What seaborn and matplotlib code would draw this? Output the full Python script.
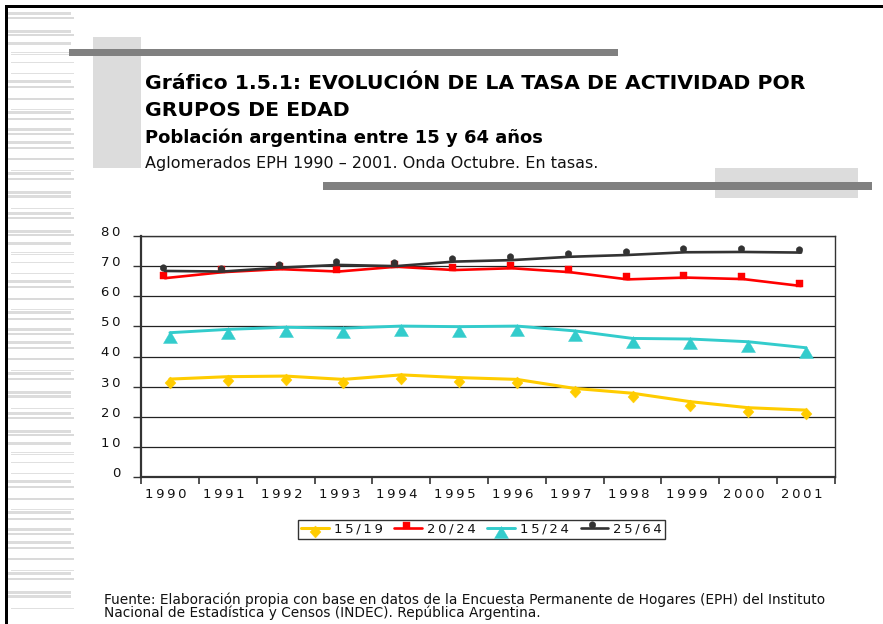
import numpy as np
import pandas as pd
import seaborn as sns
import matplotlib
matplotlib.use("Agg")
import matplotlib.pyplot as plt
from matplotlib.path import Path
from matplotlib.markers import MarkerStyle
from matplotlib.transforms import ScaledTranslation
from matplotlib.patches import Rectangle

# ---------------- data ----------------
years = ["1990", "1991", "1992", "1993", "1994", "1995",
         "1996", "1997", "1998", "1999", "2000", "2001"]
tasa_15_19 = [32.5, 33.3, 33.5, 32.4, 33.9, 33.0, 32.4, 29.4, 27.8, 25.0, 23.0, 22.2]
tasa_20_24 = [66.0, 68.0, 69.0, 68.2, 69.8, 68.7, 69.3, 68.0, 65.6, 66.2, 65.7, 63.4]
tasa_15_24 = [47.9, 49.0, 49.7, 49.4, 50.1, 49.9, 50.1, 48.5, 46.0, 45.8, 44.9, 42.9]
tasa_25_64 = [68.4, 68.2, 69.5, 70.4, 70.0, 71.5, 72.0, 73.1, 73.7, 74.6, 74.7, 74.5]
series_labels = ["15/19", "20/24", "15/24", "25/64"]
y_ticks = [0, 10, 20, 30, 40, 50, 60, 70, 80]

title_1 = "Gráfico 1.5.1: EVOLUCIÓN DE LA TASA DE ACTIVIDAD POR"
title_2 = "GRUPOS DE EDAD"
subtitle = "Población argentina entre 15 y 64 años"
note = "Aglomerados EPH 1990 – 2001. Onda Octubre. En tasas."
source_1 = ("Fuente: Elaboración propia con base en datos de la Encuesta Permanente "
            "de Hogares (EPH) del Instituto")
source_2 = "Nacional de Estadística y Censos (INDEC). República Argentina."

# ---------------- style ----------------
sns.set_style("white")
plt.rcParams["font.family"] = ["DejaVu Sans"]

W, H, DPI = 883, 624, 100
fig = plt.figure(figsize=(W / DPI, H / DPI), dpi=DPI)
fig.patch.set_facecolor("white")


def spaced(s):
    return "\u2009".join(s)


# background / page decoration axes (pixel coordinates)
bg = fig.add_axes([0, 0, 1, 1], zorder=0)
bg.set_xlim(0, W)
bg.set_ylim(H, 0)
bg.axis("off")

# left margin striped decoration
pattern = [(2, "K"), (7, "m"), (20, "K"), (24, "m"), (32, "K"), (41, "t"), (43, "t"),
           (51, "t"), (62, "t"), (70, "K"), (76, "m"), (88, "m"), (98, "t"), (101, "K"),
           (108, "m"), (118, "K"), (123, "m"), (131, "K"), (137, "m"), (148, "m"),
           (159, "t"), (162, "K"), (168, "m"), (181, "K"), (185, "K"), (197, "t")]
for start in (11, 211, 411):
    for off, kind in pattern:
        yy = start + off
        if yy > H:
            continue
        if kind == "K":
            bg.add_patch(Rectangle((8, yy - 1.5), 63, 3, color="#dcdcdc", lw=0))
        elif kind == "m":
            bg.add_patch(Rectangle((8, yy - 0.8), 66, 1.6, color="#dadada", lw=0))
        else:
            bg.add_patch(Rectangle((11, yy - 0.5), 63, 1.0, color="#e0e0e0", lw=0))

# page border
bg.add_patch(Rectangle((5, 5), W - 5, 3, color="black", lw=0))
bg.add_patch(Rectangle((5, 5), 3, H - 5, color="black", lw=0))

# header blocks
bg.add_patch(Rectangle((93, 37), 48, 131, color="#dcdcdc", lw=0, zorder=1))
bg.add_patch(Rectangle((69, 49), 549, 7, color="#808080", lw=0, zorder=2))
bg.add_patch(Rectangle((715, 168), 143, 30, color="#dcdcdc", lw=0, zorder=1))
bg.add_patch(Rectangle((323, 182), 549, 8, color="#808080", lw=0, zorder=2))

# header texts
bg.text(145, 89, title_1, fontsize=14.7, fontweight="bold", color="black",
        va="baseline", ha="left", zorder=3)
bg.text(145, 116, title_2, fontsize=14.7, fontweight="bold", color="black",
        va="baseline", ha="left", zorder=3)
bg.text(145, 143, subtitle, fontsize=12.95, fontweight="bold", color="black",
        va="baseline", ha="left", zorder=3)
bg.text(145, 168, note, fontsize=11.5, color="#111111",
        va="baseline", ha="left", zorder=3)
bg.text(104, 604, source_1, fontsize=9.95, color="#111111",
        va="baseline", ha="left", zorder=3)
bg.text(104, 617, source_2, fontsize=9.95, color="#111111",
        va="baseline", ha="left", zorder=3)

# ---------------- chart ----------------
ax = fig.add_axes([141 / W, 1 - 477 / H, (835 - 141) / W, (477 - 236) / H], zorder=2)
ax.set_facecolor("white")

R = 12.0
bound = Path([[R, R]], [Path.MOVETO])


def mk(path):
    return MarkerStyle(Path.make_compound_path(bound, path))


C = [Path.MOVETO, Path.LINETO, Path.LINETO, Path.LINETO, Path.CLOSEPOLY]
diamond = mk(Path([(0, 2.5), (5.5, -3.5), (0, -9.5), (-5.5, -3.5), (0, 2.5)], C))
triangle = mk(Path([(0, 2), (7, -10), (-7, -10), (0, 2)],
                   [Path.MOVETO, Path.LINETO, Path.LINETO, Path.CLOSEPOLY]))
square = mk(Path([(-5.5, -0.5), (1.5, -0.5), (1.5, 6.5), (-5.5, 6.5), (-5.5, -0.5)], C))
circle = mk(Path.circle(center=(-2, 3.5), radius=3.3))
MS = 2 * R * 72 / DPI

series = [
    (tasa_15_19, series_labels[0], "#FFCC00", diamond, 2.2, False),
    (tasa_20_24, series_labels[1], "#FF0000", square, 1.9, True),
    (tasa_15_24, series_labels[2], "#33CCCC", triangle, 2.1, False),
    (tasa_25_64, series_labels[3], "#333333", circle, 1.9, True),
]

shift = ax.transData + ScaledTranslation(-5 / DPI, 0, fig.dpi_scale_trans)
for i, (vals, lab, col, mkr, lw, shifted) in enumerate(series):
    df = pd.DataFrame({"Año": years, "Tasa": vals})
    sns.lineplot(data=df, x="Año", y="Tasa", ax=ax, color=col, lw=lw,
                 marker=mkr, markersize=MS, markeredgecolor=col,
                 markerfacecolor=col, markeredgewidth=0.3,
                 label=spaced(lab), zorder=3 + i, sort=False)
    if shifted:
        ax.lines[-1].set_transform(shift)

ax.set_xlim(-0.5, 11.5)
ax.set_ylim(0, 80)
ax.set_xlabel("")
ax.set_ylabel("")

# x: boundary ticks (major), labels at category centers (minor)
ax.set_xticks(np.arange(-0.5, 12, 1))
ax.set_xticklabels([""] * 13)
ax.set_xticks(np.arange(len(years)), minor=True)
ax.set_xticklabels([spaced(y) for y in years], minor=True)
ax.tick_params(axis="x", which="major", direction="out", length=5, width=1.2,
               color="#333333", bottom=True)
ax.tick_params(axis="x", which="minor", length=0, pad=8, labelsize=9.5,
               labelcolor="#111111")
xoff = ScaledTranslation(-4 / DPI, 0, fig.dpi_scale_trans)
for t in ax.get_xticklabels(minor=True):
    t.set_transform(t.get_transform() + xoff)

ax.set_yticks(y_ticks)
ax.set_yticklabels([spaced(str(v)) for v in y_ticks])
ax.tick_params(axis="y", direction="out", length=6, width=1.0, color="#333333",
               left=True, pad=9, labelsize=9.5, labelcolor="#111111")
yoff = ScaledTranslation(0, 5 / DPI, fig.dpi_scale_trans)
for t in ax.get_yticklabels():
    t.set_transform(t.get_transform() + yoff)

ax.yaxis.grid(True, color="#222222", lw=0.9)
ax.xaxis.grid(False)
ax.set_axisbelow(True)
for side, sp in ax.spines.items():
    sp.set_visible(True)
    sp.set_color("#333333")
    sp.set_linewidth(1.0)
ax.spines["left"].set_linewidth(1.6)
ax.spines["bottom"].set_linewidth(1.6)

handles, labels = ax.get_legend_handles_labels()
leg = ax.legend(handles, labels, ncol=4, loc="center",
                bbox_to_anchor=(481.5 / W, 1 - 529.5 / H),
                bbox_transform=fig.transFigure, frameon=True, fancybox=False,
                framealpha=1, edgecolor="#333333", fontsize=9.5,
                handlelength=2.1, handletextpad=0.35, columnspacing=0.9,
                borderpad=0.25, borderaxespad=0)
leg.get_frame().set_linewidth(1.0)
for t in leg.get_texts():
    t.set_color("#111111")

fig.savefig("out.png", dpi=DPI, facecolor="white")
